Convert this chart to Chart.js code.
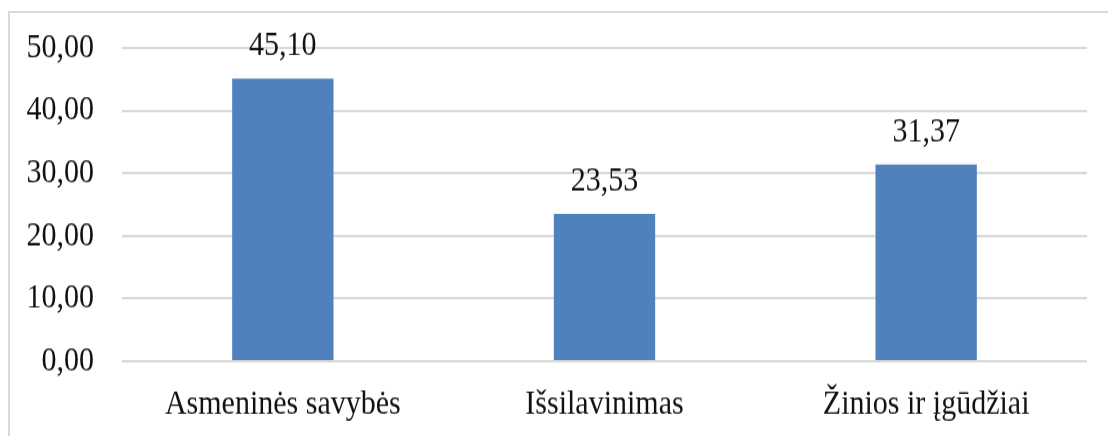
<!DOCTYPE html>
<html>
<head>
<meta charset="utf-8">
<script src="https://cdn.jsdelivr.net/npm/chart.js@4"></script>
<style>
  html, body { margin: 0; padding: 0; background: #fff; overflow: hidden; }
  #frame { position: absolute; left: 8px; top: 11px; width: 1130px; height: 460px; border: 2px solid #d9d9d9; box-sizing: border-box; }
  #wrap { position: absolute; left: 0; top: 0; width: 1108px; height: 373px; transform: scaleY(1.1689); transform-origin: 0 0; }
  #c { display: block; width: 1108px; height: 373px; }
</style>
</head>
<body>
<div id="frame"></div>
<div id="wrap"><canvas id="c" width="1108" height="373" style="width:1108px;height:373px"></canvas></div>
<script>
const categories = ['Asmeninės savybės', 'Išsilavinimas', 'Žinios ir įgūdžiai'];
const values = [45.10, 23.53, 31.37];
const yTicks = [0, 10, 20, 30, 40, 50];

const fmt = v => v.toFixed(2).replace('.', ',');
const FONT = { family: '"Liberation Serif", "Times New Roman", serif', size: 30, lineHeight: 1.2 };

const labelPlugin = {
  id: 'barLabels',
  afterDatasetsDraw(chart) {
    const ctx = chart.ctx;
    const meta = chart.getDatasetMeta(0);
    ctx.save();
    ctx.font = `${FONT.size}px ${FONT.family}`;
    ctx.fillStyle = '#111';
    ctx.textAlign = 'center';
    ctx.textBaseline = 'alphabetic';
    meta.data.forEach((bar, i) => {
      ctx.fillText(fmt(values[i]), bar.x, bar.y - 20);
    });
    ctx.restore();
  }
};

new Chart(document.getElementById('c'), {
  type: 'bar',
  data: {
    labels: categories,
    datasets: [{
      data: values,
      backgroundColor: '#4f81bd',
      borderWidth: 0,
      categoryPercentage: 1,
      barPercentage: 0.315
    }]
  },
  options: {
    responsive: false,
    devicePixelRatio: 1,
    animation: false,
    layout: { padding: { top: 41, left: 0, right: 21, bottom: 0 } },
    plugins: { legend: { display: false }, tooltip: { enabled: false } },
    scales: {
      x: {
        grid: { display: false, drawTicks: false },
        border: { display: false },
        ticks: { color: '#111', font: FONT, padding: 19, maxRotation: 0, autoSkip: false },
        afterFit: axis => { axis.height = 64; }
      },
      y: {
        min: 0, max: 50,
        afterBuildTicks: axis => { axis.ticks = yTicks.map(v => ({ value: v })); },
        grid: { color: '#d9d9d9', lineWidth: 2, drawTicks: false },
        border: { display: false },
        ticks: { color: '#111', font: FONT, padding: 28, callback: v => fmt(v) },
        afterFit: axis => { axis.width = 122; axis.paddingTop = 0; axis.paddingBottom = 0; }
      }
    }
  },
  plugins: [labelPlugin]
});
</script>
</body>
</html>
